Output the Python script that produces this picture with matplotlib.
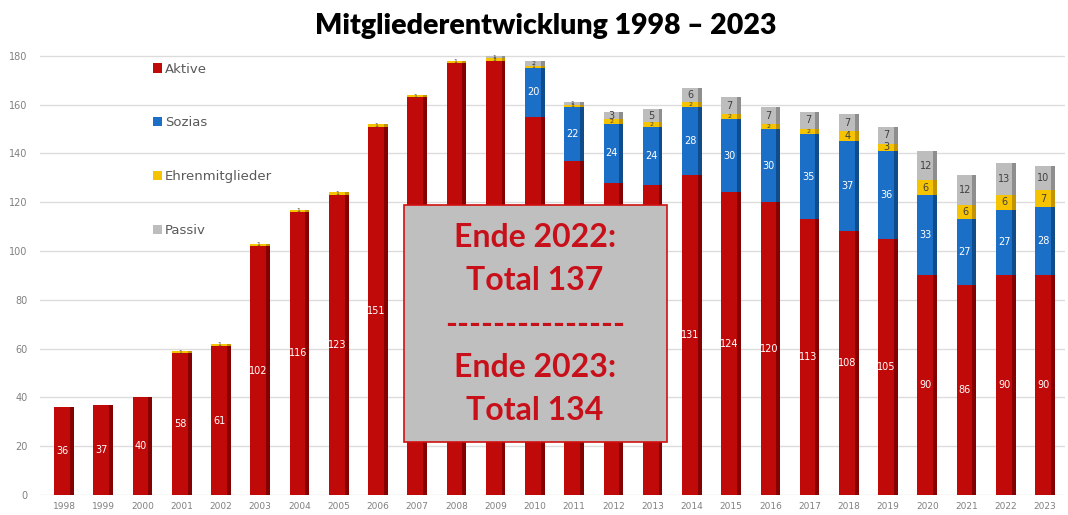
import matplotlib.pyplot as plt
import matplotlib.patches as mpatches
import numpy as np

# data
years = [str(y) for y in range(1998, 2024)]
aktive = [36, 37, 40, 58, 61, 102, 116, 123, 151, 163, 177, 178, 155,
          137, 128, 127, 131, 124, 120, 113, 108, 105, 90, 86, 90, 90]
sozias = [0, 0, 0, 0, 0, 0, 0, 0, 0, 0, 0, 0, 20,
          22, 24, 24, 28, 30, 30, 35, 37, 36, 33, 27, 27, 28]
ehren = [0, 0, 0, 1, 1, 1, 1, 1, 1, 1, 1, 1, 1,
         1, 2, 2, 2, 2, 2, 2, 4, 3, 6, 6, 6, 7]
passiv = [0, 0, 0, 0, 0, 0, 0, 0, 0, 0, 0, 1, 2,
          1, 3, 5, 6, 7, 7, 7, 7, 7, 12, 12, 13, 10]

series = [
    ("Aktive", aktive, "#c00a0a", "#850000", "white"),
    ("Sozias", sozias, "#1c6fc6", "#0f4c8c", "white"),
    ("Ehrenmitglieder", ehren, "#f6c300", "#c49300", "#404040"),
    ("Passiv", passiv, "#bdbdbd", "#8e8e8e", "#404040"),
]

W, H = 1068, 515
fig = plt.figure(figsize=(W / 100, H / 100), dpi=100)
ax = fig.add_axes([40 / W, 20 / H, 1025 / W, 188 * 2.44 / H])
ax.set_xlim(-0.612, -0.612 + 1025 / 39.24)
ax.set_ylim(0, 188)

# info box (figure pixels: left, top, right, bottom)
box_px = (404, 205, 667, 442)

x = np.arange(len(years))
w = 0.5
bottom = np.zeros(len(years))
for name, vals, col, dark, tcol in series:
    vals = np.array(vals, dtype=float)
    ax.bar(x, vals, w, bottom=bottom, color=col, label=name, zorder=3)
    # darker right side for the 3D look
    ax.bar(x + w / 2 - 0.05, vals, 0.1, bottom=bottom, color=dark, zorder=3)
    for xi, b, v in zip(x, bottom, vals):
        if v <= 0:
            continue
        px, py = ax.transData.transform((xi, b + v / 2))
        py = H - py
        if box_px[0] < px < box_px[2] and box_px[1] < py < box_px[3]:
            continue  # hidden behind the info box
        ax.text(xi - 0.04, b + v / 2, f"{int(v)}", ha="center", va="center",
                color=tcol, fontsize=7 if v >= 3 else 4.5, zorder=4)
    bottom += vals

ax.set_yticks(range(0, 181, 20))
ax.set_xticks(x)
ax.set_xticklabels(years)
ax.tick_params(axis="x", length=0, pad=5, labelsize=6.5, labelcolor="#808080")
ax.tick_params(axis="y", length=0, pad=9, labelsize=7, labelcolor="#808080")
ax.grid(axis="y", color="#dcdcdc", linewidth=1, zorder=0)
for s in ax.spines.values():
    s.set_visible(False)

ax.legend(loc="upper left", bbox_to_anchor=(146 / W, 1 - 56 / H),
          bbox_transform=fig.transFigure, frameon=False, fontsize=9.5,
          labelspacing=3.1, handlelength=0.7, handleheight=0.7,
          handletextpad=0.25, borderpad=0, labelcolor="#595959")

fig.text(546 / W, 1 - 26 / H, "Mitgliederentwicklung 1998 – 2023", ha="center",
         va="center", fontsize=20.5, fontweight="heavy", family="Lato")

box = mpatches.Rectangle((box_px[0] / W, 1 - box_px[3] / H),
                         (box_px[2] - box_px[0]) / W, (box_px[3] - box_px[1]) / H,
                         transform=fig.transFigure, facecolor="#bfbfbf",
                         edgecolor="#d01010", linewidth=1.2, zorder=5)
fig.patches.append(box)
fig.text(535 / W, 1 - 324 / H,
         "Ende 2022:\nTotal 137\n---------------\nEnde 2023:\nTotal 134",
         ha="center", va="center", fontsize=23, fontweight="bold",
         color="#c8101a", family="Lato", linespacing=1.6, zorder=6)

fig.savefig("out.png", dpi=100)
